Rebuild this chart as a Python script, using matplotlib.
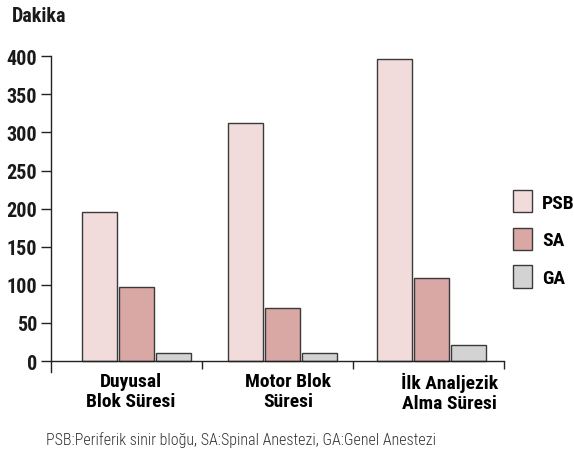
import numpy as np
import matplotlib
matplotlib.use('Agg')
from matplotlib import pyplot as plt
from matplotlib.patches import Patch

plt.rcParams['font.family'] = ['Roboto Condensed', 'DejaVu Sans']

categories = ['Duyusal\nBlok Süresi', 'Motor Blok\nSüresi', 'İlk Analjezik\nAlma Süresi']
groups = ['PSB', 'SA', 'GA']
psb = [196, 313, 396]
sa = [97, 69, 109]
ga = [11, 11, 21]
colors = ['#f2dcdb', '#d9a8a5', '#d3d3d3']

group_centers = np.array([0.566, 1.53, 2.517])
label_centers = np.array([0.53, 1.57, 2.64])
bar_w = 0.232
step = 0.245

fig = plt.figure(figsize=(5.74, 4.56), dpi=100)
ax = fig.add_axes([51 / 574, 1 - 372.7 / 456, 453 / 574, 315.4 / 456])

for i, (vals, c) in enumerate(zip([psb, sa, ga], colors)):
    ax.bar(group_centers + (i - 1) * step, vals, width=bar_w, color=c,
           edgecolor='#3a3a3a', linewidth=1.0, zorder=2)

ax.set_xlim(0, 3)
ax.set_ylim(-14, 400)
ax.spines['top'].set_visible(False)
ax.spines['right'].set_visible(False)
ax.spines['left'].set_bounds(-14, 400)
ax.spines['bottom'].set_position(('data', 0))
for s in ['left', 'bottom']:
    ax.spines[s].set_linewidth(1.0)
    ax.spines[s].set_color('#222222')

ax.set_yticks(range(0, 401, 50))
ax.tick_params(axis='y', direction='out', length=7, width=1, color='#222222',
               labelsize=14.5, pad=3)
for t in ax.get_yticklabels():
    t.set_fontweight('bold')
    t.set_color('#1a1a1a')

ax.set_xticks(label_centers)
ax.set_xticklabels(categories, fontsize=14, fontweight='bold', linespacing=1.1)
ax.set_xticks([1, 2, 3], minor=True)
ax.tick_params(axis='x', which='major', length=0, pad=8)
ax.tick_params(axis='x', which='minor', direction='out', length=6, width=1, color='#222222')

fig.text(12 / 574, 1 - 17 / 456, 'Dakika', fontsize=14.5, fontweight='bold',
         va='center', ha='left', color='#1a1a1a')

handles = [Patch(facecolor=c, edgecolor='#3a3a3a', linewidth=1.0) for c in colors]
fig.legend(handles, groups, loc='upper left', bbox_to_anchor=(513 / 574, 1 - 191 / 456),
           frameon=False, borderpad=0, borderaxespad=0, handlelength=1.0, handleheight=1.4,
           handletextpad=0.5, labelspacing=0.78, prop={'size': 14, 'weight': 'bold'})

fig.text(46 / 574, 1 - 440 / 456,
         'PSB:Periferik sinir bloğu, SA:Spinal Anestezi, GA:Genel Anestezi',
         fontsize=11.5, fontweight='light', va='center', ha='left', color='#333333')

fig.savefig('out.png', dpi=100)
